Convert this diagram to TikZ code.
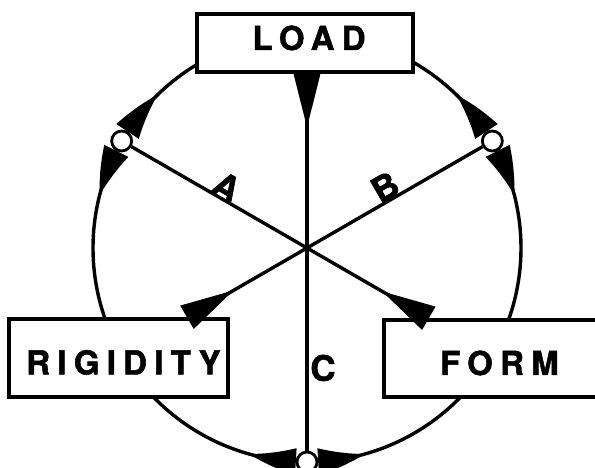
\documentclass[tikz,border=0pt]{standalone}
\usepackage{fontspec}
\usetikzlibrary{arrows.meta,calc,bending}
\newfontfamily\labfont[LetterSpace=22, BoldFeatures={FakeBold=1.5}]{TeX Gyre Heros}
\newfontfamily\letfont[BoldFeatures={FakeBold=1.5}]{TeX Gyre Heros}
\begin{document}
\begin{tikzpicture}[x=1pt,y=1pt,
  line width=3.4pt,
  box/.style={draw, line width=3.4pt, inner sep=0pt, font=\labfont\bfseries\fontsize{33}{33}\selectfont},
  hole/.style={circle, draw, fill=white, minimum size=20pt, inner sep=0pt, line width=2.8pt},
  wedge/.style={-{Triangle[reversed,length=54pt,width=26pt]}},
  arcwedge/.style={-{Triangle[reversed,bend,length=48pt,width=26pt]}},
  lett/.style={font=\letfont\bfseries\fontsize{35}{35}\selectfont, inner sep=0pt}]
\clip (0,0) rectangle (595,468);
\coordinate (ctr) at (307,220);
\node[box, minimum width=216pt, minimum height=58pt, text height=22pt, text depth=8pt] (load) at (305,425) {\hspace{8pt}LOAD};
\node[box, minimum width=219pt, minimum height=78pt, text height=33pt, text depth=0pt] (rig) at (118.5,110) {\hspace{10pt}RIGIDITY};
\node[box, minimum width=225pt, minimum height=77pt, text height=33pt, text depth=0pt] (form) at (496.5,109.5) {\hspace{6pt}FORM};
\node[hole] (pA) at ($(ctr)+(150:214)$) {};
\node[hole] (pB) at ($(ctr)+(30:214)$) {};
\node[hole] (pC) at ($(ctr)+(270:214)$) {};
% arcs along the ring
\coordinate (l1) at ($(ctr)+(120.9:214)$);
\coordinate (l2) at ($(ctr)+(60.3:214)$);
\coordinate (r1) at ($(ctr)+(199.4:214)$);
\coordinate (r2) at ($(ctr)+(224.1:214)$);
\coordinate (f1) at ($(ctr)+(340.3:214)$);
\coordinate (f2) at ($(ctr)+(315.9:214)$);
\draw[arcwedge] (l1) arc[start angle=120.9, end angle=147, radius=214];
\draw[arcwedge] (r1) arc[start angle=199.4, end angle=153, radius=214];
\draw[arcwedge] (l2) arc[start angle=60.3, end angle=33, radius=214];
\draw[arcwedge] (f1) arc[start angle=-19.7, end angle=27, radius=214];
\draw[arcwedge] (r2) arc[start angle=224.1, end angle=267, radius=214];
\draw[arcwedge] (f2) arc[start angle=315.9, end angle=273, radius=214];
% lines through the centre
\coordinate (eA) at (intersection of pA--ctr and form.north west--form.north east);
\coordinate (eB) at (intersection of pB--ctr and rig.north west--rig.north east);
\draw[wedge] (pA) -- (eA);
\draw[wedge] (pB) -- (eB);
\draw[wedge] (pC) -- (pC |- load.south);
% labels
\node[lett, rotate=-30] (la) at (226.7,281.3) {A};
\node[lett, rotate=30] (lb) at (385,281) {B};
\node[lett] (lc) at (323,100) {C};
\end{tikzpicture}
\end{document}
